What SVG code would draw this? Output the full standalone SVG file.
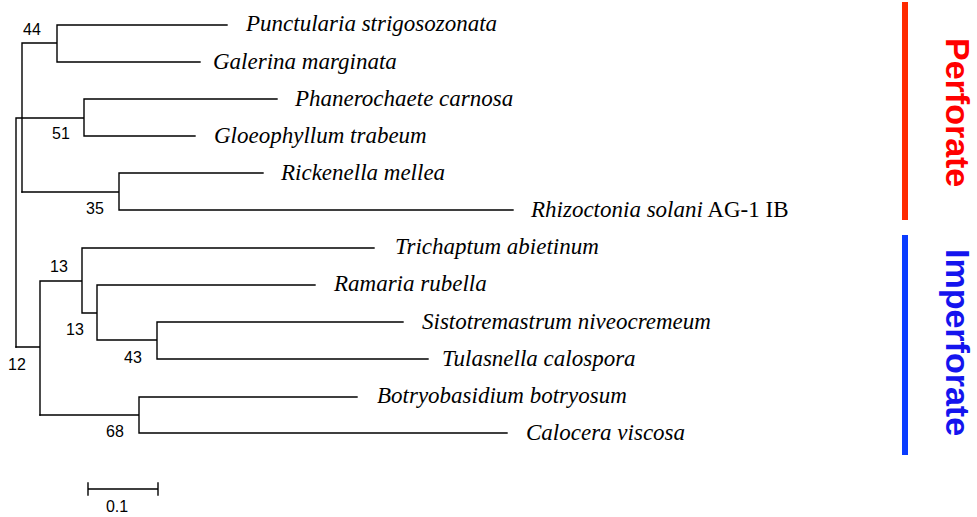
<svg xmlns="http://www.w3.org/2000/svg" width="977" height="517" viewBox="0 0 977 517">
<style>
.br{stroke:#000;stroke-width:1.4;fill:none;stroke-linecap:square}
.sp{font-family:"Liberation Serif","Times New Roman",serif;font-style:italic;font-size:23px;fill:#000}
.rg{font-style:normal}
.bs{font-family:"Liberation Sans",Arial,sans-serif;font-size:16px;fill:#000}
.grp{font-family:"Liberation Sans",Arial,sans-serif;font-weight:bold;font-size:34px}
</style>
<rect width="977" height="517" fill="#fff"/>
<g id="connectors">
<path class="br" d="M16,118V347M16,118H84M84,99V136M84,99H277M84,136H195"/>
<path class="br" d="M22,43V192M22,43H57M57,25V62M57,25H227M57,62H200"/>
<path class="br" d="M22,192H119M119,173V210M119,173H263M119,210H513"/>
<path class="br" d="M16,347H40M40,281V415M40,281H82M82,248V313M82,248H374M82,313H97M97,285V340M97,285H315M97,340H157M157,322V359M157,322H403M157,359H428"/>
<path class="br" d="M40,415H139M139,397V433M139,397H357M139,433H507"/>
</g>
<g id="bootstrap">
<text class="bs" x="23" y="35">44</text>
<text class="bs" x="52" y="139">51</text>
<text class="bs" x="86" y="214">35</text>
<text class="bs" x="50" y="272">13</text>
<text class="bs" x="66" y="335">13</text>
<text class="bs" x="124" y="363">43</text>
<text class="bs" x="8" y="370">12</text>
<text class="bs" x="106" y="437">68</text>
</g>
<g id="taxa">
<g id="t1"><text class="sp" x="246" y="31">Punctularia strigosozonata</text></g>
<g id="t2"><text class="sp" x="213" y="68.5">Galerina marginata</text></g>
<g id="t3"><text class="sp" x="295" y="105.5">Phanerochaete carnosa</text></g>
<g id="t4"><text class="sp" x="214" y="142.5">Gloeophyllum trabeum</text></g>
<g id="t5"><text class="sp" x="281" y="179.5">Rickenella mellea</text></g>
<g id="t6"><text class="sp" x="531" y="216.5">Rhizoctonia solani<tspan class="rg"> AG-1 IB</tspan></text></g>
<g id="t7"><text class="sp" x="395" y="254">Trichaptum abietinum</text></g>
<g id="t8"><text class="sp" x="334" y="291">Ramaria rubella</text></g>
<g id="t9"><text class="sp" x="422" y="328.5">Sistotremastrum niveocremeum</text></g>
<g id="t10"><text class="sp" x="442" y="365.5">Tulasnella calospora</text></g>
<g id="t11"><text class="sp" x="377" y="403">Botryobasidium botryosum</text></g>
<g id="t12"><text class="sp" x="526" y="440">Calocera viscosa</text></g>
</g>
<g id="scale">
<path class="br" d="M88,489H158M88,483V495M158,483V495"/>
<text class="bs" x="117" y="512" text-anchor="middle">0.1</text>
</g>
<g id="perforate">
<rect x="902" y="2" width="6" height="218" fill="#ff2a00"/>
<text class="grp" fill="#ff0000" transform="translate(946,38) rotate(90)">Perforate</text>
</g>
<g id="imperforate">
<rect x="902" y="235" width="6" height="220" fill="#0a3cff"/>
<text class="grp" fill="#1414ee" transform="translate(946,249) rotate(90)">Imperforate</text>
</g>
</svg>
